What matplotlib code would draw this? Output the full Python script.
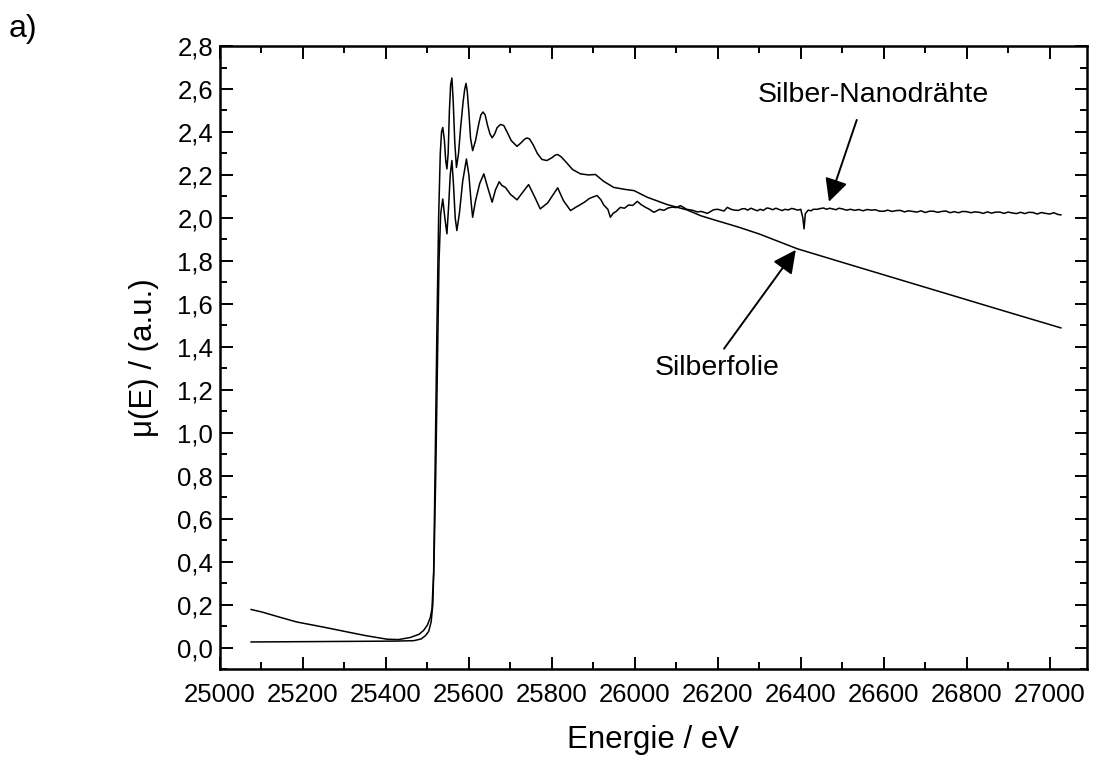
import matplotlib
matplotlib.use("Agg")
import matplotlib.pyplot as plt
from matplotlib.ticker import MultipleLocator, FuncFormatter

plt.rcParams['font.family'] = ['Liberation Sans', 'DejaVu Sans']

# Silberfolie (silver foil)
foil_E = [25075, 25100, 25150, 25185, 25250, 25306, 25350, 25402, 25430, 25459,
          25480, 25491, 25500, 25507, 25511, 25515, 25519, 25523, 25527, 25531,
          25534, 25537, 25541, 25544, 25547, 25550, 25553, 25556, 25559, 25562,
          25566, 25570, 25575, 25580, 25586, 25590, 25593, 25596, 25600, 25604,
          25609, 25616, 25624, 25629, 25634, 25639, 25645, 25651, 25656, 25662,
          25668, 25676, 25684, 25692, 25702, 25716, 25726, 25734, 25740, 25746,
          25755, 25765, 25776, 25788, 25800, 25808, 25814, 25822, 25834, 25850,
          25869, 25888, 25905, 25925, 25949, 25975, 25998, 26030, 26078, 26126,
          26159, 26191, 26250, 26300, 26392, 26500, 26600, 26700, 26800, 26900,
          27027]
foil_mu = [0.177, 0.166, 0.138, 0.119, 0.095, 0.073, 0.056, 0.039, 0.037, 0.047,
           0.062, 0.080, 0.105, 0.140, 0.180, 0.35, 0.90, 1.50, 2.00, 2.30,
           2.40, 2.421, 2.36, 2.27, 2.228, 2.30, 2.50, 2.62, 2.651, 2.55,
           2.35, 2.235, 2.30, 2.42, 2.54, 2.60, 2.626, 2.59, 2.49, 2.37,
           2.313, 2.36, 2.44, 2.48, 2.493, 2.48, 2.43, 2.39, 2.373, 2.39,
           2.42, 2.435, 2.43, 2.40, 2.36, 2.333, 2.350, 2.366, 2.372, 2.368,
           2.34, 2.30, 2.272, 2.267, 2.280, 2.292, 2.295, 2.285, 2.26, 2.225,
           2.205, 2.200, 2.202, 2.17, 2.142, 2.133, 2.127, 2.096, 2.062, 2.037,
           2.010, 1.991, 1.957, 1.925, 1.856, 1.793, 1.735, 1.677, 1.619, 1.561,
           1.488]

# Silber-Nanodrähte (silver nanowires)
wire_E = [25075, 25150, 25250, 25350, 25420, 25467, 25485, 25495, 25503, 25509,
          25513, 25516, 25520, 25524, 25528, 25532, 25537, 25542, 25547, 25551,
          25555, 25559, 25563, 25567, 25571, 25577, 25585, 25594, 25600, 25605,
          25609, 25616, 25626, 25636, 25644, 25650, 25656, 25664, 25673, 25680,
          25688, 25700, 25716, 25730, 25744, 25758, 25772, 25790, 25814, 25828,
          25845, 25858, 25869, 25880, 25890, 25900, 25909, 25918, 25925, 25935,
          25941, 25948, 25955, 25965, 25975, 25985, 25995, 26006, 26015, 26025,
          26035, 26046, 26060, 26070, 26080, 26090, 26100, 26110, 26125, 26140,
          26150, 26160, 26175, 26190, 26200, 26215, 26223, 26232, 26240, 26250,
          26258, 26265, 26272, 26280, 26295, 26302, 26310, 26318, 26325, 26332,
          26340, 26355, 26362, 26370, 26378, 26385, 26393, 26400, 26405, 26408,
          26411, 26418, 26425, 26430, 26440, 26448, 26455, 26462, 26470, 26485,
          26492, 26500, 26510, 26520, 26530, 26540, 26550, 26560, 26570, 26580,
          26590, 26600, 26610, 26620, 26630, 26640, 26650, 26660, 26670, 26680,
          26690, 26700, 26710, 26720, 26730, 26740, 26750, 26760, 26770, 26780,
          26790, 26800, 26810, 26820, 26830, 26840, 26850, 26860, 26870, 26880,
          26890, 26900, 26910, 26920, 26930, 26940, 26950, 26960, 26970, 26980,
          26990, 27000, 27010, 27020, 27027]
wire_mu = [0.026, 0.027, 0.028, 0.029, 0.030, 0.032, 0.040, 0.055, 0.075, 0.12,
           0.20, 0.40, 0.80, 1.30, 1.80, 2.02, 2.088, 2.00, 1.926, 2.05,
           2.20, 2.267, 2.15, 2.00, 1.941, 2.02, 2.17, 2.274, 2.20, 2.08,
           2.003, 2.08, 2.16, 2.205, 2.15, 2.112, 2.073, 2.13, 2.168, 2.150,
           2.142, 2.11, 2.084, 2.12, 2.155, 2.10, 2.042, 2.07, 2.140, 2.08,
           2.034, 2.050, 2.062, 2.075, 2.09, 2.098, 2.104, 2.085, 2.06, 2.040,
           2.003, 2.022, 2.030, 2.049, 2.045, 2.060, 2.058, 2.077, 2.062, 2.050,
           2.040, 2.026, 2.040, 2.035, 2.046, 2.050, 2.048, 2.057, 2.040, 2.035,
           2.028, 2.030, 2.021, 2.038, 2.040, 2.032, 2.049, 2.040, 2.036, 2.035,
           2.042, 2.043, 2.036, 2.045, 2.033, 2.040, 2.035, 2.046, 2.044, 2.038,
           2.045, 2.034, 2.040, 2.037, 2.044, 2.041, 2.036, 2.040, 2.00, 1.949,
           2.02, 2.036, 2.033, 2.040, 2.040, 2.044, 2.046, 2.040, 2.045, 2.038,
           2.045, 2.042, 2.036, 2.040, 2.035, 2.039, 2.033, 2.039, 2.036, 2.038,
           2.031, 2.031, 2.036, 2.030, 2.034, 2.035, 2.028, 2.033, 2.030, 2.027,
           2.033, 2.025, 2.031, 2.031, 2.026, 2.030, 2.032, 2.024, 2.029, 2.024,
           2.030, 2.029, 2.024, 2.028, 2.026, 2.021, 2.028, 2.022, 2.027, 2.027,
           2.021, 2.027, 2.023, 2.020, 2.026, 2.020, 2.026, 2.025, 2.018, 2.025,
           2.021, 2.018, 2.024, 2.016, 2.014]

x_ticks = list(range(25000, 27001, 200))
y_ticks = [0.0, 0.2, 0.4, 0.6, 0.8, 1.0, 1.2, 1.4, 1.6, 1.8, 2.0, 2.2, 2.4, 2.6, 2.8]

fig = plt.figure(figsize=(10.94, 7.62), dpi=100)
ax = fig.add_axes([0.2011, 0.1220, 0.7925, 0.8176])

ax.plot(foil_E, foil_mu, color='black', lw=1.1)
ax.plot(wire_E, wire_mu, color='black', lw=1.1)

ax.set_xlim(25000, 27090)
ax.set_ylim(-0.1, 2.8)
ax.set_xticks(x_ticks)
ax.set_yticks(y_ticks)
ax.xaxis.set_minor_locator(MultipleLocator(100))
ax.yaxis.set_minor_locator(MultipleLocator(0.1))
ax.yaxis.set_major_formatter(FuncFormatter(lambda v, p: f"{v:.1f}".replace('.', ',')))

ax.tick_params(which='both', direction='in', top=True, right=True, width=1.4,
               labelsize=18.5)
ax.tick_params(which='major', length=9)
ax.tick_params(which='minor', length=5)
ax.tick_params(axis='x', pad=10)
ax.tick_params(axis='y', pad=5)
for s in ax.spines.values():
    s.set_linewidth(1.8)

ax.set_xlabel('Energie / eV', fontsize=22.5, labelpad=13)
ax.set_ylabel('μ(E) / (a.u.)', fontsize=22.5, labelpad=13)

arrow = dict(arrowstyle='-|>,head_length=0.7,head_width=0.35', mutation_scale=20,
             lw=1.4, color='black', shrinkA=0, shrinkB=0)
ax.annotate('', xy=(26468, 2.075), xytext=(26535, 2.456), arrowprops=arrow)
ax.text(26576, 2.573, 'Silber-Nanodrähte', fontsize=20.5, ha='center', va='center')
ax.annotate('', xy=(26388, 1.851), xytext=(26215, 1.391), arrowprops=arrow)
ax.text(26198, 1.301, 'Silberfolie', fontsize=20.5, ha='center', va='center')

fig.text(0.008, 0.962, 'a)', fontsize=23, ha='left', va='center')

fig.savefig('out.png', dpi=100)
